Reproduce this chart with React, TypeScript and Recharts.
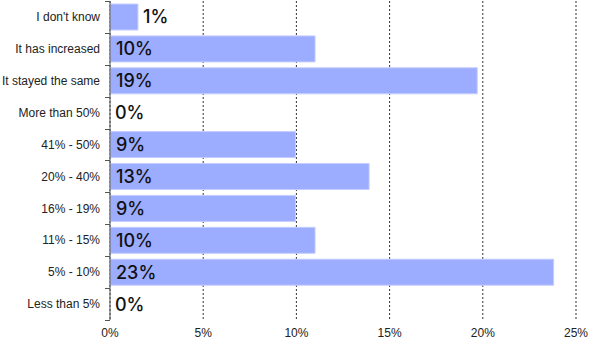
import React from 'react';
import { BarChart, Bar, XAxis, YAxis, CartesianGrid, LabelList, Cell } from 'recharts';

const categories = [
  "I don't know",
  'It has increased',
  'It stayed the same',
  'More than 50%',
  '41% - 50%',
  '20% - 40%',
  '16% - 19%',
  '11% - 15%',
  '5% - 10%',
  'Less than 5%',
];
const values = [1.5, 11.0, 19.7, 0, 9.95, 13.9, 9.95, 11.0, 23.8, 0];
const valueLabels = ['1%', '10%', '19%', '0%', '9%', '13%', '9%', '10%', '23%', '0%'];
const xTicks = [0, 5, 10, 15, 20, 25];

const data = categories.map((name, i) => ({ name, value: values[i], label: valueLabels[i] }));

const W = 589;
const H = 344;
const M = { top: 1, right: 13, bottom: 0, left: 0 };
const X_AXIS_H = 24;
const Y_AXIS_W = 110;
const BAND = (H - M.top - M.bottom - X_AXIS_H) / categories.length;
const FONT = '"Liberation Sans", Arial, sans-serif';
const LABEL_FONT = 'Inter, "Liberation Sans", sans-serif';

const YTick = (props: any) => {
  const { x, y, payload, index } = props;
  const ax = Number(x) + 10;
  const yy = Number(y);
  return (
    <g>
      <text x={x} y={y} dy="0.35em" textAnchor="end" fontSize={12} fill="#222" fontFamily={FONT}>
        {payload.value}
      </text>
      {index === 0 ? (
        <path d={`M${ax - 5},${Math.round(yy - BAND / 2) + 0.5}H${ax}`} stroke="#555" fill="none" />
      ) : null}
      <path d={`M${ax - 5},${Math.round(yy + BAND / 2) + 0.5}H${ax}`} stroke="#555" fill="none" />
    </g>
  );
};

const ValueLabel = (props: any) => {
  const { x, y, width, height, value } = props;
  const w = Number(width) || 0;
  const inside = w > 40;
  const tx = inside ? Number(x) + 6 : Number(x) + w + 5;
  return (
    <text x={tx} y={Number(y) + Number(height) / 2} dy="0.36em" fontSize={18} fontWeight={500} fill="#111" fontFamily={LABEL_FONT}>
      {value}
    </text>
  );
};

export default function App() {
  return (
    <div style={{ position: 'absolute', left: 0, top: 0 }}>
      <BarChart width={W} height={H} data={data} layout="vertical" margin={M} barCategoryGap={3}>
        <CartesianGrid horizontal={false} vertical stroke="#333" strokeDasharray="2 2" />
        <XAxis
          type="number"
          domain={[0, 25]}
          ticks={xTicks}
          axisLine={false}
          tickLine={false}
          height={X_AXIS_H}
          tick={{ fontSize: 12, fill: '#222', fontFamily: FONT }}
          tickFormatter={(v: number) => `${v}%`}
        />
        <YAxis
          type="category"
          dataKey="name"
          width={Y_AXIS_W}
          axisLine={{ stroke: '#555' }}
          tickLine={false}
          tickSize={5}
          tickMargin={5}
          tick={<YTick />}
          interval={0}
        />
        <Bar dataKey="value" fill="#9cacff" minPointSize={0.01} isAnimationActive={false}>
          {data.map((d, i) => (
            <Cell key={i} stroke={d.value > 0 ? '#c4cdff' : 'none'} />
          ))}
          <LabelList dataKey="label" content={<ValueLabel />} />
        </Bar>
      </BarChart>
    </div>
  );
}
